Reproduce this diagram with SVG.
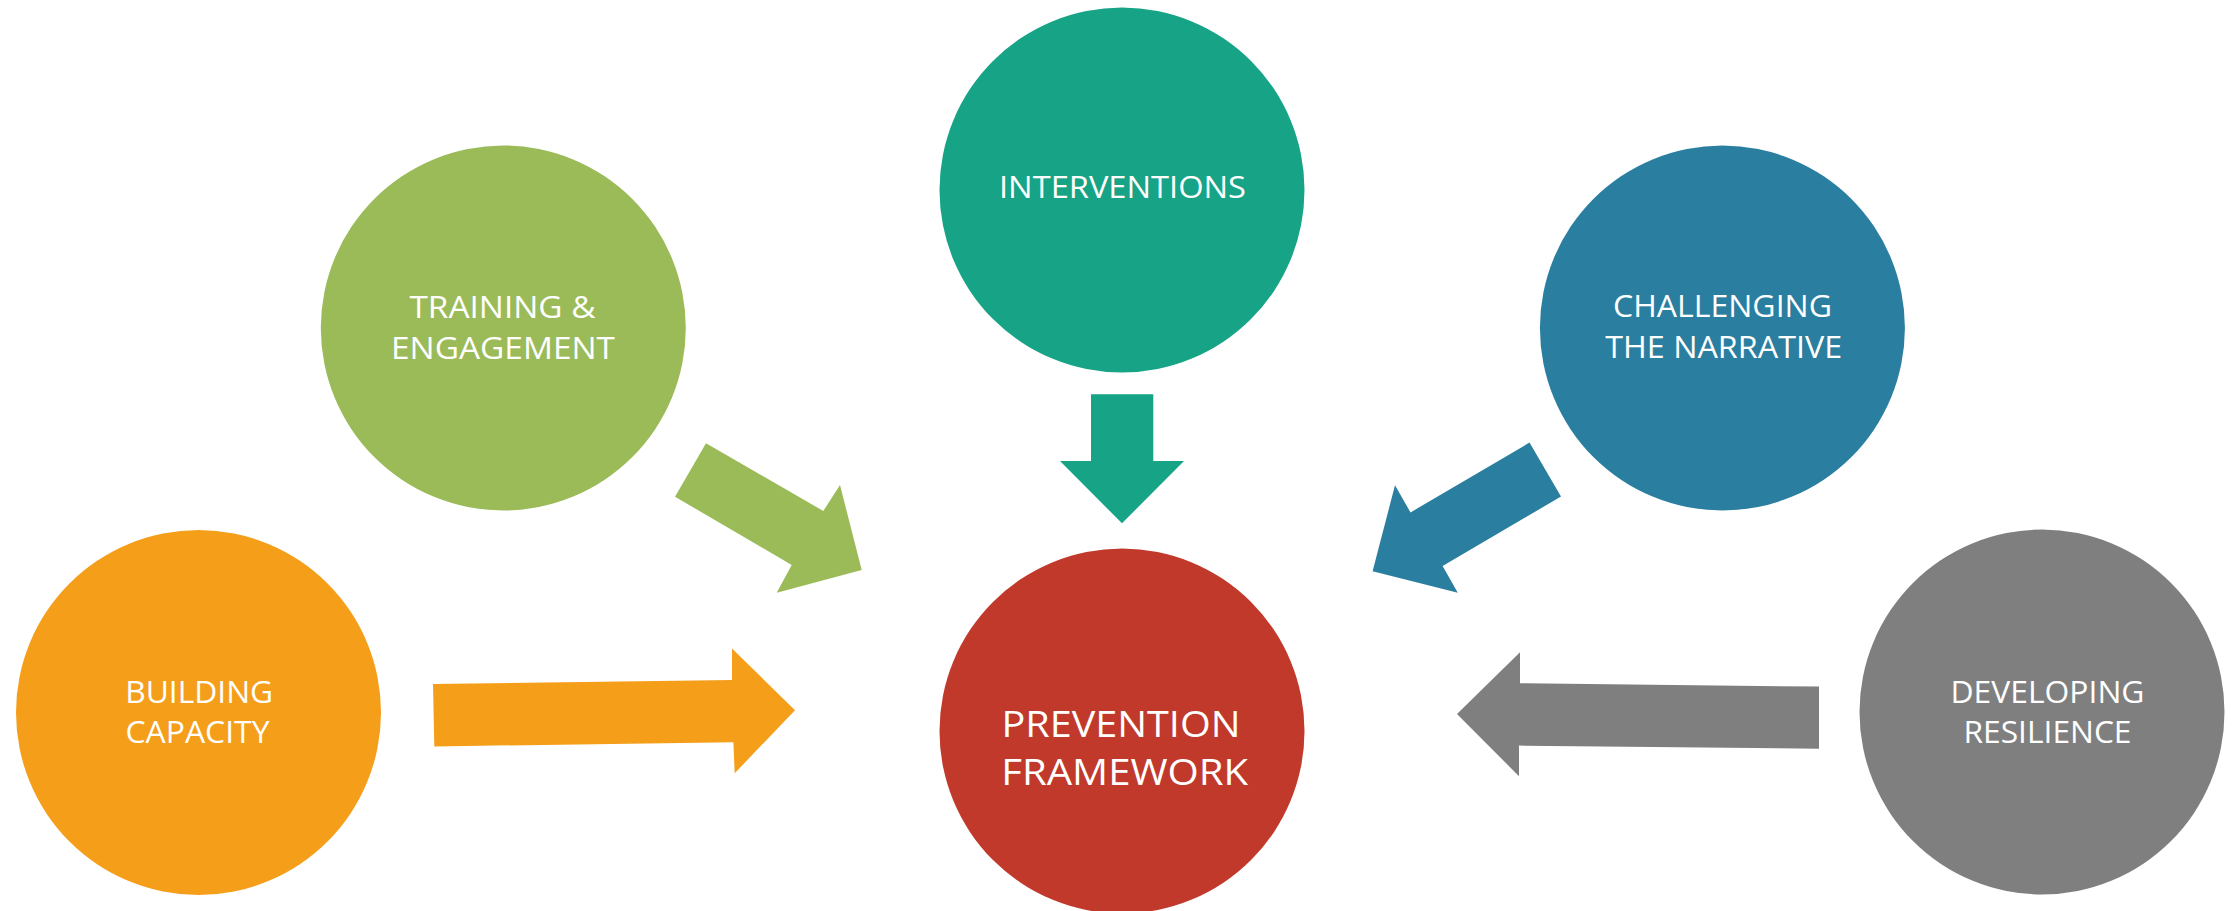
<svg xmlns="http://www.w3.org/2000/svg" width="2232" height="911" viewBox="0 0 2232 911">
<style>
.lbl{font-family:"Open Sans","Noto Sans","Liberation Sans",sans-serif;font-size:31.5px;fill:#ffffff;text-anchor:middle}
.big{font-size:36px}
</style>
<rect x="0" y="0" width="2232" height="911" fill="#ffffff"/>
<g id="connectors">
<polygon id="arrow-building" fill="#F59E19" points="433,684 732,680 732,648.5 795,710.2 734.7,773.2 733.4,742.3 434.3,746.4"/>
<polygon id="arrow-training" fill="#9BBB59" points="706,443.3 675,496.7 791.7,565 776.7,592.7 861.7,570 840,485 823.3,511"/>
<polygon id="arrow-interventions" fill="#16A386" points="1091,394.3 1153.3,394.3 1153.3,461 1184,461 1122,523.3 1060,461 1091,461"/>
<polygon id="arrow-challenging" fill="#2A7E9F" points="1529.5,442.6 1561,496.5 1442.6,566 1457.8,592.8 1372.6,571.2 1395,485.3 1410.5,512.4"/>
<polygon id="arrow-developing" fill="#7F7F7F" points="1520,652.3 1520,683.2 1819,686.6 1819,748.7 1519,745.6 1519,776.2 1457,714"/>
</g>
<g id="node-training">
<circle cx="503.3" cy="328" r="182.5" fill="#9BBB59"/>
<text class="lbl" x="502.5" y="317.7" textLength="186" lengthAdjust="spacingAndGlyphs">TRAINING &amp;</text>
<text class="lbl" x="503" y="359" textLength="224" lengthAdjust="spacingAndGlyphs">ENGAGEMENT</text>
</g>
<g id="node-interventions">
<circle cx="1122" cy="190" r="182.5" fill="#16A386"/>
<text class="lbl" x="1122.5" y="198.3" textLength="247" lengthAdjust="spacingAndGlyphs">INTERVENTIONS</text>
</g>
<g id="node-challenging">
<circle cx="1722.4" cy="328" r="182.5" fill="#2A7E9F"/>
<text class="lbl" x="1722.5" y="317.3" textLength="219" lengthAdjust="spacingAndGlyphs">CHALLENGING</text>
<text class="lbl" x="1723.7" y="357.7" textLength="237" lengthAdjust="spacingAndGlyphs">THE NARRATIVE</text>
</g>
<g id="node-building">
<circle cx="198.5" cy="712.5" r="182.5" fill="#F59E19"/>
<text class="lbl" x="199.2" y="702.7" textLength="148" lengthAdjust="spacingAndGlyphs">BUILDING</text>
<text class="lbl" x="197.5" y="742.7" textLength="144" lengthAdjust="spacingAndGlyphs">CAPACITY</text>
</g>
<g id="node-developing">
<circle cx="2042" cy="712" r="182.5" fill="#7F7F7F"/>
<text class="lbl" x="2047.5" y="702.7" textLength="194" lengthAdjust="spacingAndGlyphs">DEVELOPING</text>
<text class="lbl" x="2047.5" y="742.7" textLength="168" lengthAdjust="spacingAndGlyphs">RESILIENCE</text>
</g>
<g id="node-prevention">
<circle cx="1122" cy="731" r="182.5" fill="#C0392B"/>
<text class="lbl big" x="1121" y="736.7" textLength="239" lengthAdjust="spacingAndGlyphs">PREVENTION</text>
<text class="lbl big" x="1124.7" y="785" textLength="247" lengthAdjust="spacingAndGlyphs">FRAMEWORK</text>
</g>
</svg>
